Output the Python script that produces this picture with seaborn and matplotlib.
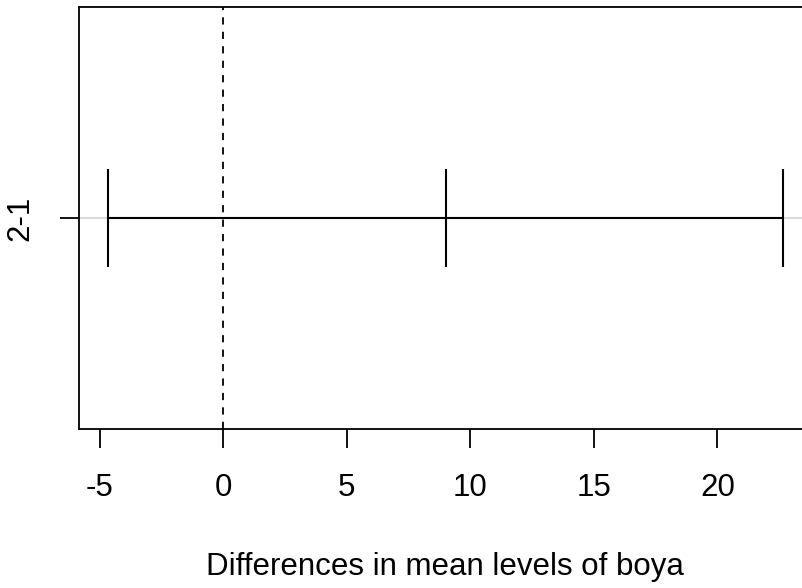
import matplotlib
matplotlib.use("Agg")
import matplotlib.pyplot as plt
import seaborn as sns

# Tukey HSD result (boya): comparison, diff, lwr, upr
comparisons = ["2-1"]
diff = [9.0]
lwr = [-4.67]
upr = [22.67]
xticks = [-5, 0, 5, 10, 15, 20]

sns.set_theme(style="ticks")
plt.rcParams['font.family'] = ['Liberation Sans', 'DejaVu Sans']

fig = plt.figure(figsize=(8.02, 5.88), dpi=100)
# right edge of the box is cut off in the original
ax = fig.add_axes([0.0985, 0.270, 0.912, 0.718])

ypos = list(range(1, len(comparisons) + 1))

# light gray reference line through each comparison
for y in ypos:
    ax.axhline(y, color='lightgray', lw=1.2, zorder=1, clip_on=False)
ax.axvline(0, color='black', lw=1.3, ls=(0, (4, 4)), zorder=2)

ax.hlines(ypos, lwr, upr, color='black', lw=1.5, zorder=3)
cap = 0.116
for y, lo, mid, hi in zip(ypos, lwr, diff, upr):
    ax.vlines([lo, mid, hi], y - cap, y + cap, color='black', lw=1.5, zorder=3)

span = upr[0] - lwr[0]
ax.set_xlim(lwr[0] - 0.04 * span - 0.07, upr[0] + 0.04 * span)
ax.set_ylim(0.5, 1.5)

ax.set_xticks(xticks)
ax.set_xticklabels([str(t) for t in xticks])
ax.set_yticks(ypos)
ax.set_yticklabels(comparisons, rotation=90, va='center')

for s in ax.spines.values():
    s.set_color('black')
    s.set_linewidth(1.3)

ax.tick_params(axis='both', direction='out', length=13.5, width=1.3,
               color='black', labelsize=22.5, labelcolor='black')
ax.tick_params(axis='x', pad=18)
ax.tick_params(axis='y', pad=18)

ax.set_xlabel("Differences in mean levels of boya", fontsize=22.5, labelpad=35,
              color='black')

fig.savefig("out.png", dpi=100)
